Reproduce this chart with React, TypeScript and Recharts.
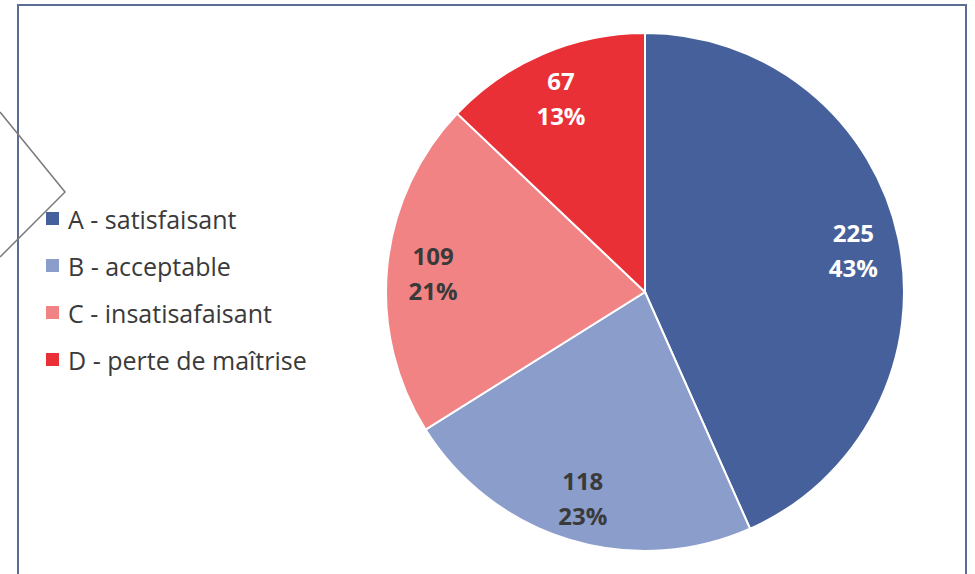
import { PieChart, Pie, Cell, Legend } from 'recharts'

const categories = ['A - satisfaisant', 'B - acceptable', 'C - insatisafaisant', 'D - perte de maîtrise']
const counts = [225, 118, 109, 67]
const percents = ['43%', '23%', '21%', '13%']
const colors = ['#46609b', '#8a9dcb', '#f28385', '#e93037']
const labelColors = ['#ffffff', '#3a3a3a', '#3a3a3a', '#ffffff']

const data = categories.map((name, i) => ({
  name,
  value: counts[i],
  pct: percents[i],
}))

const RAD = Math.PI / 180
const FONT = '"Open Sans", "Noto Sans", sans-serif'

function SliceLabel(props: any) {
  const { cx, cy, midAngle, index } = props
  const r = 213
  const x = cx + r * Math.cos(-midAngle * RAD)
  const y = cy + r * Math.sin(-midAngle * RAD)
  return (
    <text
      x={x}
      y={y}
      textAnchor="middle"
      fill={labelColors[index]}
      fontFamily={FONT}
      fontWeight={700}
      fontSize={24}
    >
      <tspan x={x} dy={-6}>{data[index].value}</tspan>
      <tspan x={x} dy={35}>{data[index].pct}</tspan>
    </text>
  )
}

function LegendBox() {
  return (
    <div style={{ fontFamily: FONT, fontSize: 25, color: '#3a3a3a' }}>
      {data.map((d, i) => (
        <div key={d.name} style={{ display: 'flex', alignItems: 'center', height: 47 }}>
          <span style={{ width: 13, height: 13, background: colors[i], marginRight: 9, display: 'inline-block' }} />
          <span>{d.name}</span>
        </div>
      ))}
    </div>
  )
}

export default function App() {
  return (
    <div style={{ position: 'absolute', left: 0, top: 0, width: 975, height: 574, background: '#fff', overflow: 'hidden' }}>
      {/* frame */}
      <div
        style={{
          position: 'absolute',
          left: 17,
          top: 4,
          width: 950,
          height: 600,
          border: '2px solid #5b6d93',
          boxSizing: 'border-box',
        }}
      />
      <PieChart
        width={975}
        height={574}
        margin={{ top: 0, right: 0, bottom: 0, left: 0 }}
        style={{ position: 'absolute', left: 0, top: 0 }}
      >
        <Pie
          data={data}
          dataKey="value"
          nameKey="name"
          cx={645}
          cy={292}
          outerRadius={259}
          startAngle={90}
          endAngle={-270}
          stroke="#ffffff"
          strokeWidth={2}
          label={SliceLabel}
          labelLine={false}
          isAnimationActive={false}
        >
          {data.map((d, i) => (
            <Cell key={d.name} fill={colors[i]} />
          ))}
        </Pie>
        <Legend
          layout="vertical"
          content={<LegendBox />}
          wrapperStyle={{ left: 46, top: 195, width: 320 }}
        />
      </PieChart>
      {/* chevron decoration */}
      <svg width={975} height={574} style={{ position: 'absolute', left: 0, top: 0, pointerEvents: 'none' }}>
        <polyline points="0,112 65,192 0,257" fill="none" stroke="#7a7a7a" strokeWidth={1.5} />
      </svg>
    </div>
  )
}
